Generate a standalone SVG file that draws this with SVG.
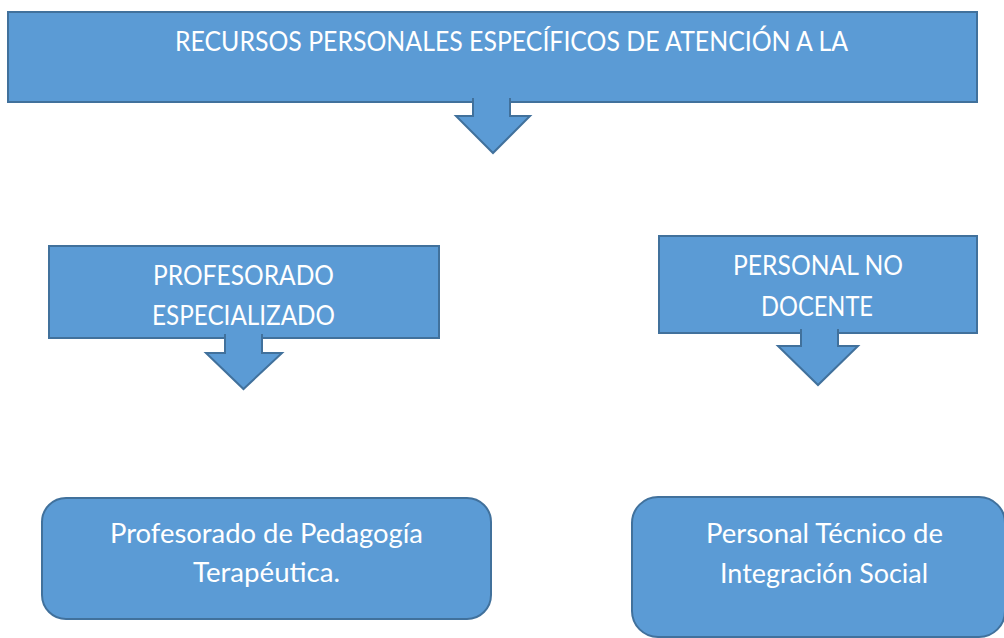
<svg xmlns="http://www.w3.org/2000/svg" width="1004" height="638" viewBox="0 0 1004 638">
  <style>
    .box { fill: #5B9BD5; stroke: #41719C; stroke-width: 2; }
    .arrow { fill: #5B9BD5; stroke: #41719C; stroke-width: 2; stroke-linejoin: miter; }
    .lbl { font-family: Lato, "Liberation Sans", sans-serif; font-size: 26px; fill: #FFFFFF; text-anchor: middle; }
  </style>
  <rect width="1004" height="638" fill="#FFFFFF"/>

  <g id="top">
    <rect class="box" x="8" y="12" width="969" height="90"/>
    <text class="lbl" x="511.5" y="51" textLength="673" lengthAdjust="spacingAndGlyphs">RECURSOS PERSONALES ESPECÍFICOS DE ATENCIÓN A LA</text>
  </g>

  <g id="profesorado-especializado">
    <rect class="box" x="49" y="246" width="390" height="92"/>
    <text class="lbl" x="243.5" y="285" textLength="181" lengthAdjust="spacingAndGlyphs">PROFESORADO</text>
    <text class="lbl" x="243.5" y="325" textLength="183" lengthAdjust="spacingAndGlyphs">ESPECIALIZADO</text>
  </g>

  <g id="personal-no-docente">
    <rect class="box" x="659" y="236" width="318" height="97"/>
    <text class="lbl" x="818" y="275" textLength="170" lengthAdjust="spacingAndGlyphs">PERSONAL NO</text>
    <text class="lbl" x="817" y="316" textLength="112" lengthAdjust="spacingAndGlyphs">DOCENTE</text>
  </g>

  <g id="pedagogia-terapeutica">
    <rect class="box" x="42" y="498" width="449" height="121" rx="24" ry="24"/>
    <text class="lbl" x="266.5" y="543" textLength="313" lengthAdjust="spacingAndGlyphs">Profesorado de Pedagogía</text>
    <text class="lbl" x="266.5" y="582" textLength="147" lengthAdjust="spacingAndGlyphs">Terapéutica.</text>
  </g>

  <g id="integracion-social">
    <rect class="box" x="632" y="497" width="373" height="140" rx="26" ry="26"/>
    <text class="lbl" x="824.5" y="543" textLength="237" lengthAdjust="spacingAndGlyphs">Personal Técnico de</text>
    <text class="lbl" x="824" y="583" textLength="208" lengthAdjust="spacingAndGlyphs">Integración Social</text>
  </g>

  <g id="connectors">
    <path class="arrow" d="M473,98 L473,116 L456,116 L493,153 L530,116 L510,116 L510,98"/>
    <path class="arrow" d="M225,334 L225,353 L206,353 L243.5,389 L282,353 L262,353 L262,334"/>
    <path class="arrow" d="M801,329 L801,346 L778,346 L818,385 L858,346 L838,346 L838,329"/>
  </g>
</svg>
